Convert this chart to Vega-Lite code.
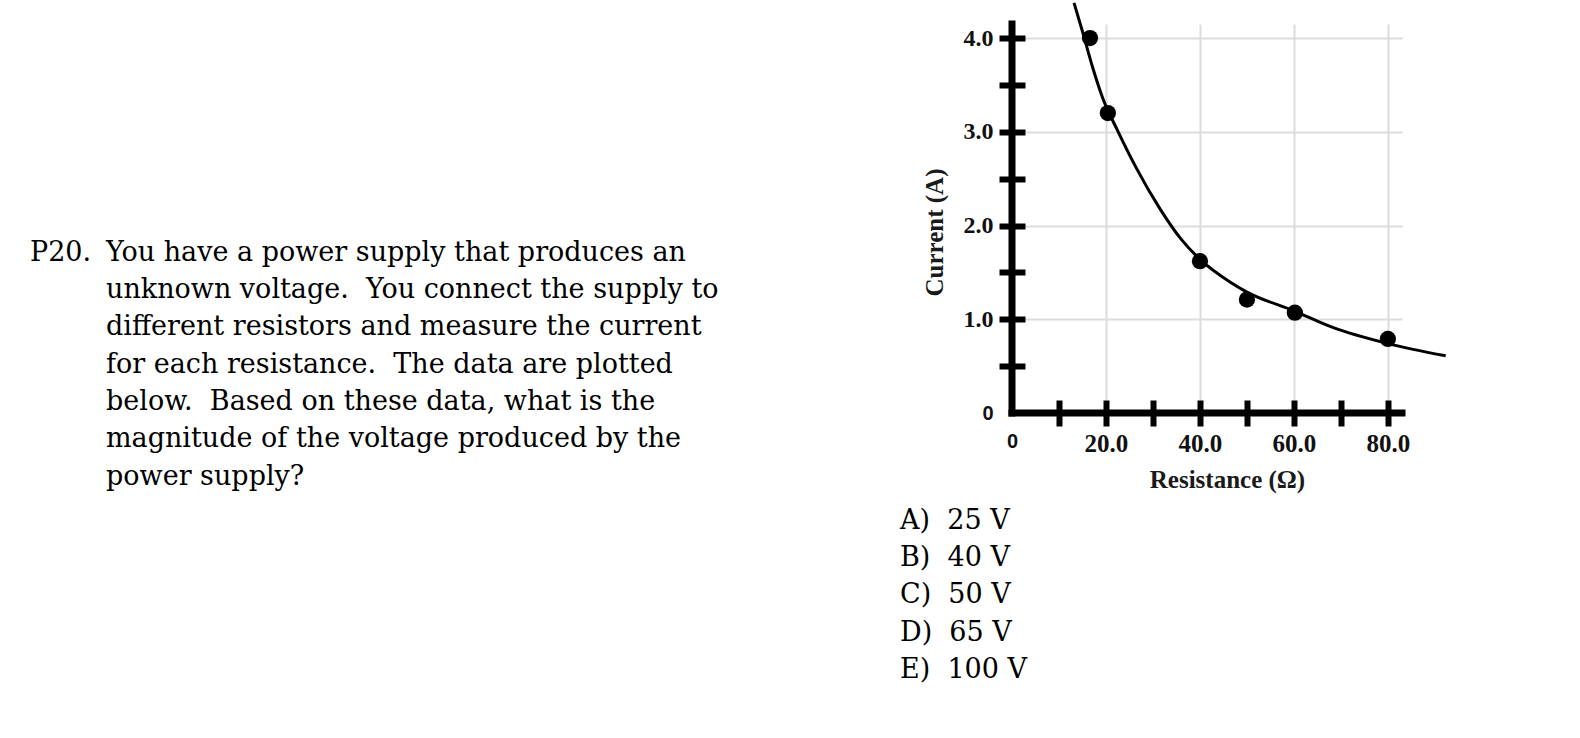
{
  "$schema": "https://vega.github.io/schema/vega-lite/v6.json",
  "background": "white",
  "padding": {"left": 30, "top": -4, "right": 5, "bottom": 5},
  "autosize": {"type": "pad"},
  "config": {"view": {"stroke": null}},
  "datasets": {
    "question": [
      {"line": 1, "number": "P20.", "text": "You have a power supply that produces an"},
      {"line": 2, "number": "", "text": "unknown voltage.\u00a0 You connect the supply to"},
      {"line": 3, "number": "", "text": "different resistors and measure the current"},
      {"line": 4, "number": "", "text": "for each resistance.\u00a0 The data are plotted"},
      {"line": 5, "number": "", "text": "below.\u00a0 Based on these data, what is the"},
      {"line": 6, "number": "", "text": "magnitude of the voltage produced by the"},
      {"line": 7, "number": "", "text": "power supply?"}
    ],
    "choices": [
      {"line": 1, "choice": "A)\u00a0 25 V"},
      {"line": 2, "choice": "B)\u00a0 40 V"},
      {"line": 3, "choice": "C)\u00a0 50 V"},
      {"line": 4, "choice": "D)\u00a0 65 V"},
      {"line": 5, "choice": "E)\u00a0 100 V"}
    ],
    "measurements": [
      {"resistance": 16.6, "current": 4.0},
      {"resistance": 20.4, "current": 3.2},
      {"resistance": 40.0, "current": 1.62},
      {"resistance": 50.0, "current": 1.21},
      {"resistance": 60.2, "current": 1.07},
      {"resistance": 80.0, "current": 0.79}
    ],
    "fit_curve": [
      {"resistance": 13.2, "current": 4.375},
      {"resistance": 15.0, "current": 4.07},
      {"resistance": 17.2, "current": 3.68},
      {"resistance": 19.3, "current": 3.36},
      {"resistance": 22.6, "current": 3.0},
      {"resistance": 26.5, "current": 2.61},
      {"resistance": 31.6, "current": 2.17},
      {"resistance": 35.9, "current": 1.86},
      {"resistance": 40.2, "current": 1.63},
      {"resistance": 46.3, "current": 1.4},
      {"resistance": 50.0, "current": 1.29},
      {"resistance": 60.0, "current": 1.09},
      {"resistance": 68.4, "current": 0.91},
      {"resistance": 80.0, "current": 0.74},
      {"resistance": 92.3, "current": 0.61}
    ]
  },
  "spacing": 0,
  "bounds": "flush",
  "hconcat": [
    {
      "width": 76,
      "height": 460.5,
      "data": {"name": "question"},
      "mark": {"type": "text", "align": "left", "baseline": "alphabetic", "font": "DejaVu Serif", "fontSize": 27, "color": "black"},
      "encoding": {
        "x": {"datum": 0, "type": "quantitative", "scale": {"domain": [0, 1]}, "axis": null},
        "y": {"field": "line", "type": "quantitative", "scale": {"domain": [-5.346, 7], "reverse": true, "nice": false, "zero": false}, "axis": null},
        "text": {"field": "number"}
      }
    },
    {
      "width": 794,
      "height": 460.5,
      "data": {"name": "question"},
      "mark": {"type": "text", "align": "left", "baseline": "alphabetic", "font": "DejaVu Serif", "fontSize": 27, "color": "black"},
      "encoding": {
        "x": {"datum": 0, "type": "quantitative", "scale": {"domain": [0, 1]}, "axis": null},
        "y": {"field": "line", "type": "quantitative", "scale": {"domain": [-5.346, 7], "reverse": true, "nice": false, "zero": false}, "axis": null},
        "text": {"field": "text"}
      }
    },
    {
      "width": 112,
      "height": 653.7,
      "data": {"name": "choices"},
      "mark": {"type": "text", "align": "left", "baseline": "alphabetic", "font": "DejaVu Serif", "fontSize": 27, "color": "black"},
      "encoding": {
        "x": {"datum": 0, "type": "quantitative", "scale": {"domain": [0, 1]}, "axis": null},
        "y": {"field": "line", "type": "quantitative", "scale": {"domain": [-12.573, 5], "reverse": true, "nice": false, "zero": false}, "axis": null},
        "text": {"field": "choice"}
      }
    },
    {
      "width": 390,
      "height": 389,
      "layer": [
        {
          "data": {"name": "measurements"},
          "mark": {"type": "circle", "size": 265, "opacity": 1, "color": "black"},
          "encoding": {
            "x": {
              "field": "resistance", "type": "quantitative",
              "scale": {"domain": [0, 83], "nice": false, "zero": false},
              "axis": {
                "title": "Resistance (Ω)",
                "values": [0, 10, 20, 30, 40, 50, 60, 70, 80],
                "labelExpr": "datum.value == 0 ? '0' : (datum.value % 20 == 0 ? format(datum.value, '.1f') : '')",
                "labelFont": {"condition": {"test": "datum.value == 0", "value": "Liberation Sans"}, "value": "Liberation Serif"},
                "labelFontSize": {"condition": {"test": "datum.value == 0", "value": 20}, "value": 25},
                "labelFontWeight": "bold",
                "labelColor": "#111111",
                "labelPadding": 5,
                "labelFlush": false,
                "labelOverlap": false,
                "labelBound": false,
                "domain": false,
                "offset": -13,
                "tickSize": 26,
                "tickWidth": 6,
                "tickColor": "black",
                "tickOpacity": {"condition": {"test": "datum.value == 0", "value": 0}, "value": 1},
                "grid": true,
                "gridColor": "#dcdcdc",
                "gridWidth": 2,
                "gridOpacity": {"condition": {"test": "datum.value % 20 == 0 && datum.value > 0", "value": 1}, "value": 0},
                "titleFont": "Liberation Serif",
                "titleFontSize": 25,
                "titleFontWeight": "bold",
                "titleColor": "#1a1a1a",
                "titlePadding": 11,
                "titleX": 215
              }
            },
            "y": {
              "field": "current", "type": "quantitative",
              "scale": {"domain": [0, 4.15], "nice": false, "zero": false},
              "axis": {
                "title": "Current (A)",
                "values": [0, 0.5, 1, 1.5, 2, 2.5, 3, 3.5, 4],
                "labelExpr": "datum.value == 0 ? '0' : (datum.value % 1 == 0 ? format(datum.value, '.1f') : '')",
                "labelFont": {"condition": {"test": "datum.value == 0", "value": "Liberation Sans"}, "value": "Liberation Serif"},
                "labelFontSize": {"condition": {"test": "datum.value == 0", "value": 20}, "value": 24},
                "labelFontWeight": "bold",
                "labelColor": "#111111",
                "labelPadding": 6,
                "labelFlush": false,
                "labelOverlap": false,
                "labelBound": false,
                "domain": false,
                "offset": -13,
                "tickSize": 26,
                "tickWidth": 6,
                "tickColor": "black",
                "tickOpacity": {"condition": {"test": "datum.value == 0", "value": 0}, "value": 1},
                "grid": true,
                "gridColor": "#dcdcdc",
                "gridWidth": 2,
                "gridOpacity": {"condition": {"test": "datum.value % 1 == 0 && datum.value > 0", "value": 1}, "value": 0},
                "titleFont": "Liberation Serif",
                "titleFontSize": 25,
                "titleFontWeight": "bold",
                "titleColor": "#1a1a1a",
                "titlePadding": 16,
                "titleY": 208
              }
            }
          }
        },
        {
          "data": {"name": "fit_curve"},
          "mark": {"type": "line", "color": "black", "strokeWidth": 3, "interpolate": "monotone"},
          "encoding": {
            "x": {"field": "resistance", "type": "quantitative"},
            "y": {"field": "current", "type": "quantitative"}
          }
        },
        {
          "data": {"values": [{}]},
          "mark": {"type": "rule", "color": "black", "strokeWidth": 7, "strokeCap": "square"},
          "encoding": {"x": {"datum": 0, "type": "quantitative"}}
        },
        {
          "data": {"values": [{}]},
          "mark": {"type": "rule", "color": "black", "strokeWidth": 7, "strokeCap": "square"},
          "encoding": {"y": {"datum": 0, "type": "quantitative"}}
        }
      ]
    }
  ]
}
